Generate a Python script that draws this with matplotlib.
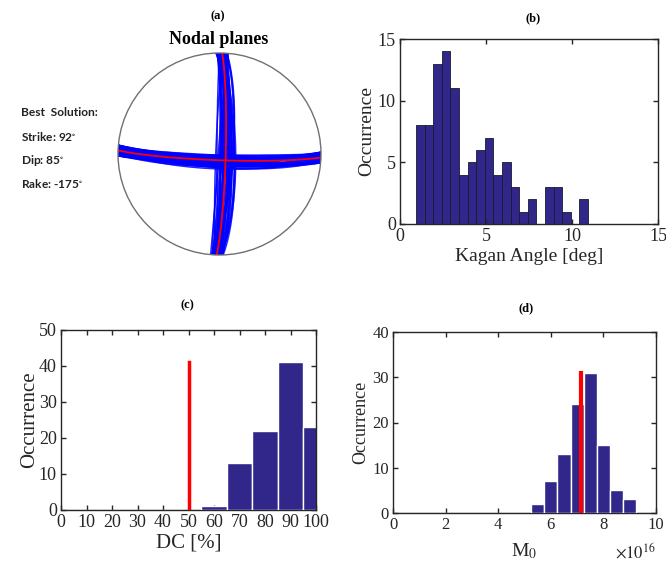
import numpy as np
import matplotlib
matplotlib.use('Agg')
import matplotlib.pyplot as plt
import matplotlib.patches as mpatches

plt.rcParams['font.family'] = 'Liberation Serif'
plt.rcParams['mathtext.fontset'] = 'stix'

# best focal mechanism
best_strike, best_dip, best_rake = 92, 85, -175

# ensemble of solutions
sol_strike = [92, 90, 94, 91, 95, 89, 93, 90, 95, 91, 94, 89, 95, 92, 90,
              94, 89, 93, 91, 95, 90, 94, 92, 95, 90, 89, 93, 94, 91, 90,
              94, 92, 95, 90, 89, 93, 94, 91, 90, 94]
sol_dip = [85, 82, 88, 80, 86, 84, 79, 87, 83, 89, 81, 86, 84, 78, 88,
           83, 85, 80, 87, 82, 89, 84, 81, 86, 83, 85, 88, 79, 84, 86,
           82, 87, 85, 80, 83, 89, 84, 81, 86, 83]
sol_rake = [-175, -170, -178, -168, -180, -172, -176, -167, -174, -179,
            -171, -177, -169, -173, -182, -175, -168, -178, -170, -176,
            -174, -181, -172, -169, -177, -173, -171, -179, -176, -168,
            -175, -183, -170, -174, -178, -172, -176, -170, -180, -173]

# (b) Kagan angle histogram
kagan_edges0 = 0.93
kagan_width = 0.5
kagan_counts = [8, 8, 13, 14, 11, 4, 5, 6, 7, 4, 5, 3, 1, 2, 0, 3, 3, 1, 0, 2]

# (c) DC histogram
dc_centers = [0, 10, 20, 30, 40, 50, 60, 70, 80, 90, 100]
dc_counts = [0, 0, 0, 0, 0, 0, 1, 13, 22, 41, 23]
dc_best = 50

# (d) M0 histogram (units of 1e16)
m0_centers = [0, 0.5, 1, 1.5, 2, 2.5, 3, 3.5, 4, 4.5, 5, 5.5, 6, 6.5, 7,
              7.5, 8, 8.5, 9, 9.5, 10]
m0_counts = [0, 0, 0, 0, 0, 0, 0, 0, 0, 0, 0, 2, 7, 13, 24, 31, 15, 5, 3, 0, 0]
m0_best = 7.16

bar_color = '#31278a'
txt_color = '#262626'


def plane_xy(strike, dip):
    phi, dlt = np.radians(strike), np.radians(dip)
    t = np.linspace(0, np.pi, 200)
    s = np.array([np.cos(phi), np.sin(phi), 0.0])
    dd = np.array([-np.sin(phi) * np.cos(dlt), np.cos(phi) * np.cos(dlt), np.sin(dlt)])
    p = np.outer(np.cos(t), s) + np.outer(np.sin(t), dd)
    k = 1.0 / np.sqrt(1 + p[:, 2])
    return p[:, 1] * k, p[:, 0] * k


def aux_plane(strike, dip, rake):
    phi, dlt, lam = np.radians(strike), np.radians(dip), np.radians(rake)
    d = np.array([np.cos(lam) * np.cos(phi) + np.sin(lam) * np.cos(dlt) * np.sin(phi),
                  np.cos(lam) * np.sin(phi) - np.sin(lam) * np.cos(dlt) * np.cos(phi),
                  -np.sin(lam) * np.sin(dlt)])
    if d[2] > 0:
        d = -d
    dip2 = np.degrees(np.arccos(-d[2]))
    strike2 = np.degrees(np.arctan2(-d[0], d[1]))
    return strike2, dip2


def style(ax, fs):
    for sp in ax.spines.values():
        sp.set_color(txt_color)
        sp.set_linewidth(1.0)
        sp.set_zorder(4)
    ax.tick_params(direction='in', top=True, right=True, length=3.5,
                   width=1.0, colors=txt_color, labelsize=fs, pad=3)


fig = plt.figure(figsize=(6.66, 5.65), dpi=100)

# (a) nodal planes
axa = fig.add_axes([118 / 666, 1 - 255 / 565, 203 / 666, 202 / 565])
axa.set_xlim(-1, 1)
axa.set_ylim(-1, 1)
axa.axis('off')
for st, dp, rk in zip(sol_strike, sol_dip, sol_rake):
    x, y = plane_xy(st, dp)
    axa.plot(x, y, color='#0000ff', lw=1.1, alpha=0.85)
    st2, dp2 = aux_plane(st, dp, rk)
    x, y = plane_xy(st2, dp2)
    axa.plot(x, y, color='#0000ff', lw=1.1, alpha=0.85)
x, y = plane_xy(best_strike, best_dip)
axa.plot(x, y, color='red', lw=1.3)
st2, dp2 = aux_plane(best_strike, best_dip, best_rake)
x, y = plane_xy(st2, dp2)
axa.plot(x, y, color='red', lw=1.3)
axa.add_patch(mpatches.Circle((0, 0), 1, fill=False, ec='#707070', lw=1.0, clip_on=False, zorder=5))
fig.text(218 / 666, 1 - 16 / 565, '(a)', ha='center', va='center', fontsize=9, fontweight='bold')
fig.text(219 / 666, 1 - 40 / 565, 'Nodal planes', ha='center', va='center', fontsize=13, fontweight='bold')
info = ['Best  Solution:', 'Strike: 92$^{\\circ}$', 'Dip: 85$^{\\circ}$', 'Rake: -175$^{\\circ}$']
for i, s in enumerate(info):
    fig.text(21 / 666, 1 - (113 + 23.5 * i) / 565, s, ha='left', va='center',
             fontsize=8.6, fontweight='bold', family='Lato', color='#222222')

# (b) Kagan angle
axb = fig.add_axes([400 / 666, 1 - 224 / 565, 258 / 666, 185 / 565])
kag_left = kagan_edges0 + kagan_width * np.arange(len(kagan_counts))
axb.bar(kag_left, kagan_counts, width=kagan_width, align='edge', color=bar_color,
        edgecolor='#1a1a2e', linewidth=0.6)
axb.set_xlim(0, 15)
axb.set_ylim(0, 15)
axb.set_xticks([0, 5, 10, 15])
axb.set_yticks([0, 5, 10, 15])
style(axb, 13)
axb.set_xlabel('Kagan Angle [deg]', fontsize=14, color=txt_color, labelpad=2)
axb.set_ylabel('Occurrence', fontsize=14, color=txt_color, labelpad=2)
fig.text(533 / 666, 1 - 18 / 565, '(b)', ha='center', va='center', fontsize=9, fontweight='bold')

# (c) DC
axc = fig.add_axes([61 / 666, 1 - 510 / 565, 255 / 666, 180 / 565])
ec = ['white' if c > 0 else '#9a9a9a' for c in dc_counts]
axc.bar(dc_centers, dc_counts, width=10, color=bar_color, edgecolor=ec, linewidth=1.0, zorder=3)
axc.plot([dc_best, dc_best], [0, max(dc_counts)], color='red', lw=2.5, zorder=5)
axc.set_xlim(0, 100)
axc.set_ylim(0, 50)
axc.set_xticks(range(0, 101, 10))
axc.set_yticks(range(0, 51, 10))
style(axc, 13)
axc.spines['bottom'].set_zorder(2)
axc.set_xlabel('DC [%]', fontsize=15, color=txt_color, labelpad=2)
axc.set_ylabel('Occurrence', fontsize=15, color=txt_color, labelpad=0)
fig.text(187 / 666, 1 - 305 / 565, '(c)', ha='center', va='center', fontsize=9, fontweight='bold')

# (d) M0
axd = fig.add_axes([393 / 666, 1 - 513 / 565, 263 / 666, 181 / 565])
ec = ['white' if c > 0 else '#9a9a9a' for c in m0_counts]
axd.bar(m0_centers, m0_counts, width=0.5, color=bar_color, edgecolor=ec, linewidth=1.0, zorder=3)
axd.plot([m0_best, m0_best], [0, max(m0_counts)], color='red', lw=3, zorder=5)
axd.set_xlim(0, 10)
axd.set_ylim(0, 40)
axd.set_xticks(range(0, 11, 2))
axd.set_yticks(range(0, 41, 10))
style(axd, 12)
axd.spines['bottom'].set_zorder(2)
axd.set_xlabel('M$_0$', fontsize=14, color=txt_color, labelpad=6)
axd.set_ylabel('Occurrence', fontsize=13, color=txt_color, labelpad=2)
axd.text(1.0, -0.22, '$\\times 10^{16}$', transform=axd.transAxes, ha='right', va='center',
         fontsize=12, color=txt_color)
fig.text(526 / 666, 1 - 308 / 565, '(d)', ha='center', va='center', fontsize=9, fontweight='bold')

fig.savefig('out.png', dpi=100)
